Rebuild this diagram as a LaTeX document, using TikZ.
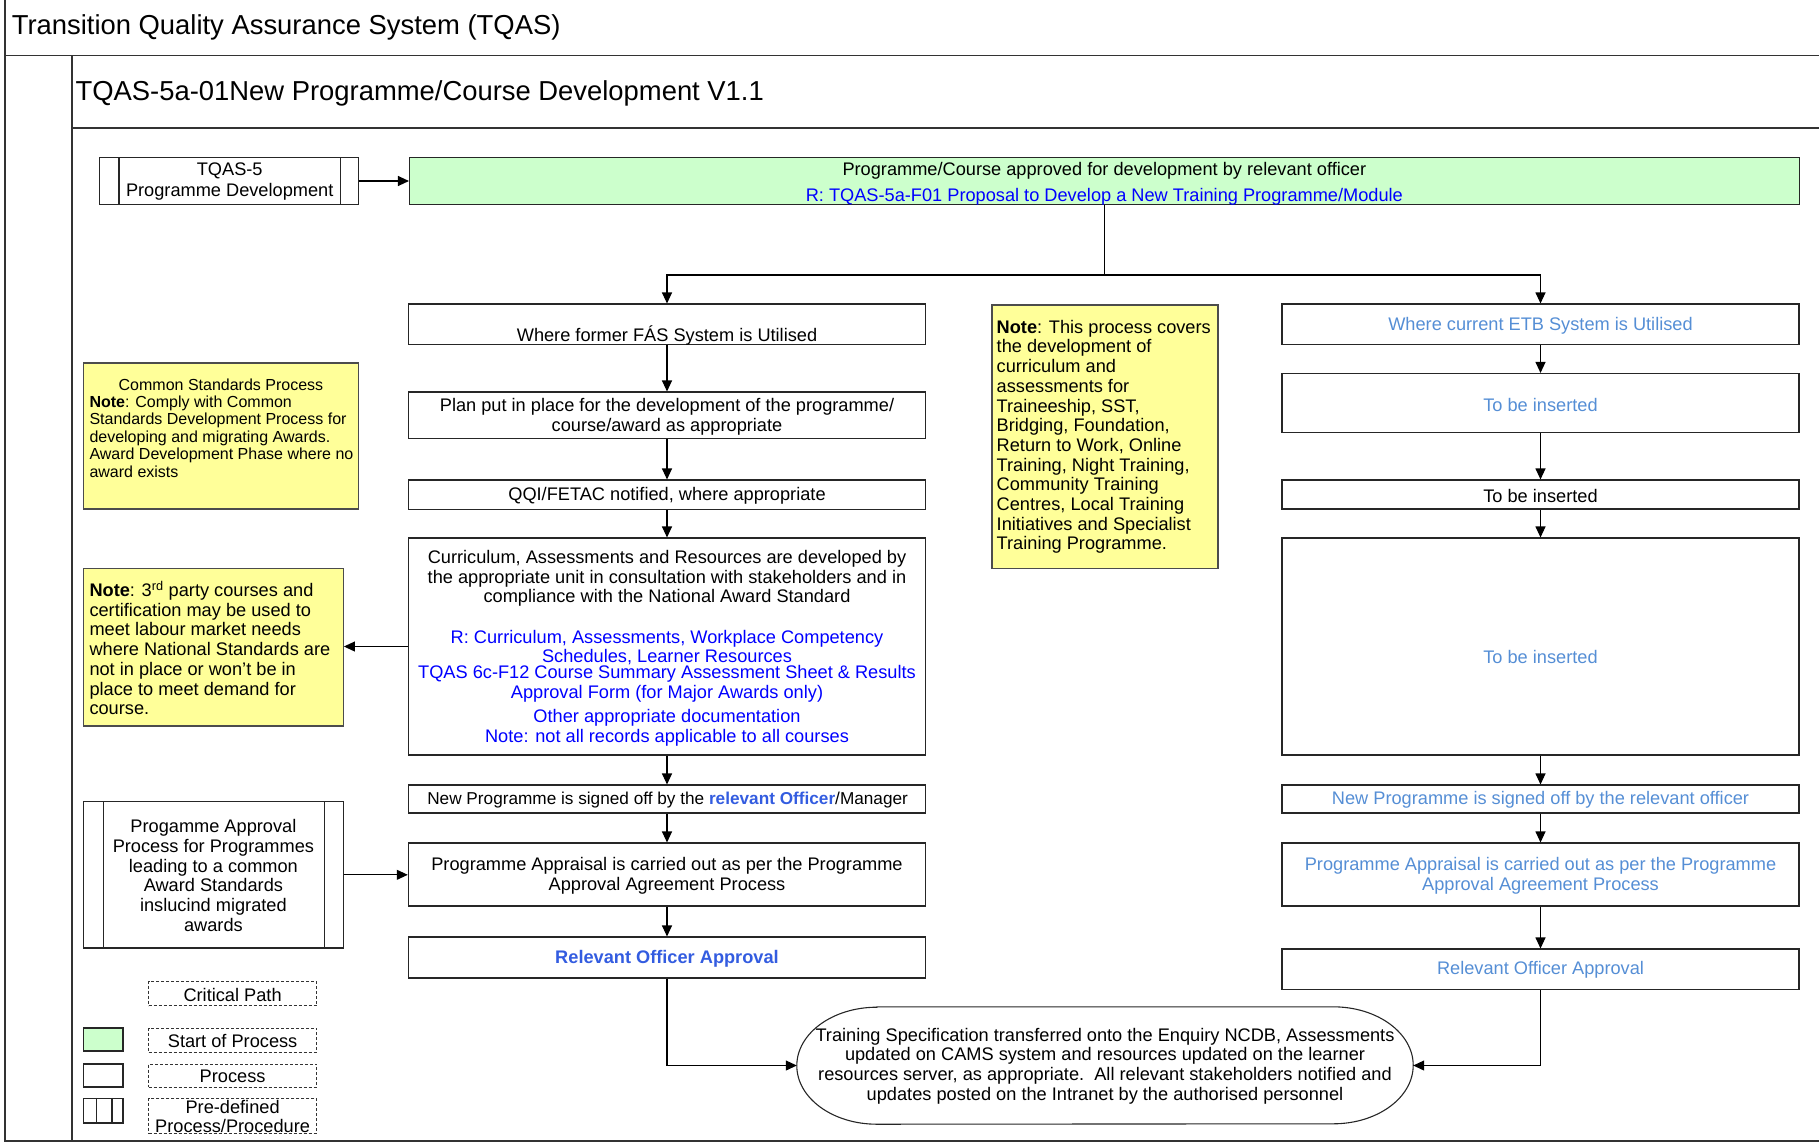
\documentclass[tikz,border=0pt]{standalone}
\usepackage{fontspec}
\setmainfont{Liberation Sans}
\usetikzlibrary{arrows.meta}
\definecolor{startgreen}{RGB}{204,255,204}
\definecolor{noteyellow}{RGB}{255,255,153}
\definecolor{recblue}{RGB}{0,0,255}
\definecolor{lightblue}{RGB}{85,142,213}
\definecolor{boldblue}{RGB}{51,92,224}
\newcommand\myfs{\fontsize{18.2}{19.7}\selectfont}
\newcommand\mysmallfs{\fontsize{16}{17.4}\selectfont}
\newcommand\mytitlefs{\fontsize{27.4}{30}\selectfont}
\begin{document}
\begin{tikzpicture}[x=1pt,y=-1pt,
  frame/.style={draw=black!80, line width=1.5pt},
  box/.style={draw=black!85, line width=1.1pt, inner sep=0pt},
  notebox/.style={draw=black!70, line width=1.1pt, fill=noteyellow, inner sep=0pt},
  legbox/.style={draw=black!80, line width=1pt, dash pattern=on 3pt off 2pt, inner sep=0pt},
  arr/.style={draw=black, line width=1.1pt, -{Triangle[length=11pt,width=10pt]}},
  link/.style={draw=black, line width=1.1pt},
  t/.style={font=\myfs, align=center, inner sep=0pt, yshift=-1.5pt},
  lt/.style={font=\myfs, align=left, inner sep=0pt, anchor=west, yshift=-1.5pt},
]
\useasboundingbox (0,0) rectangle (1819,1144);

% frame
\draw[frame] (5,0) -- (5,1141) -- (1819,1141);
\draw[frame] (5,55.7) -- (1819,55.7);
\draw[frame] (72,55.7) -- (72,1141);
\draw[frame] (72,128) -- (1819,128);
\node[font=\mytitlefs, anchor=west, inner sep=0pt] (title1) at (11.6,27.5) {Transition Quality Assurance System (TQAS)};
\node[font=\mytitlefs, anchor=west, inner sep=0pt] (title2) at (75.4,93.5) {TQAS-5a-01New Programme/Course Development V1.1};

% top row
\node[box, minimum width=258.6pt, minimum height=46.4pt] (T5) at (229.1,181) {};
\draw[box] ([xshift=19.7pt]T5.north west) -- ([xshift=19.7pt]T5.south west);
\draw[box] ([xshift=-18.4pt]T5.north east) -- ([xshift=-18.4pt]T5.south east);
\node[t, font=\fontsize{18.2}{21}\selectfont] at (229.7,180) {TQAS-5\\Programme Development};

\node[box, fill=startgreen, minimum width=1389.7pt, minimum height=46.4pt] (G) at (1104.35,181) {};
\node[t, font=\fontsize{18.2}{25.5}\selectfont] at (1104.35,182.5) {Programme/Course approved for development by relevant officer\\\textcolor{recblue}{R: TQAS-5a-F01 Proposal to Develop a New Training Programme/Module}};

% left column
\node[box, minimum width=517.4pt, minimum height=40.5pt] (L1) at (667,324.25) {};
\node[t] at (667,334) {Where former FÁS System is Utilised};
\node[box, minimum width=517.4pt, minimum height=46.5pt] (L2) at (667,415.25) {};
\node[t] at (667,415.5) {Plan put in place for the development of the programme/\\course/award as appropriate};
\node[box, minimum width=517.4pt, minimum height=29.2pt] (L3) at (667,494.6) {};
\node[t] at (667,494) {QQI/FETAC notified, where appropriate};
\node[box, minimum width=517.4pt, minimum height=217pt] (L4) at (667,646.5) {};
\node[t] at (667,577) {Curriculum, Assessments and Resources are developed by\\the appropriate unit in consultation with stakeholders and in\\compliance with the National Award Standard};
\node[t, text=recblue] at (667,646) {R: Curriculum, Assessments, Workplace Competency\\Schedules, Learner Resources};
\node[t, text=recblue] at (667,682) {TQAS 6c-F12 Course Summary Assessment Sheet \& Results\\Approval Form (for Major Awards only)};
\node[t, text=recblue] at (667,726) {Other appropriate documentation\\Note: not all records applicable to all courses};
\node[box, minimum width=517.4pt, minimum height=28pt] (L5) at (667,799) {};
\node[t, font=\fontsize{17.2}{19.7}\selectfont] at (667.6,799) {New Programme is signed off by the \textcolor{boldblue}{\textbf{relevant Officer}}/Manager};
\node[box, minimum width=517.4pt, minimum height=63pt] (L6) at (667,874.5) {};
\node[t] at (667,874.5) {Programme Appraisal is carried out as per the Programme\\Approval Agreement Process};
\node[box, minimum width=517.4pt, minimum height=41pt] (L7) at (667,957.5) {};
\node[t, text=boldblue, font=\myfs\bfseries] at (667,957.5) {Relevant Officer Approval};

% right column
\node[box, minimum width=517pt, minimum height=40.5pt] (R1) at (1540.5,324.25) {};
\node[t, text=lightblue] at (1540.5,324) {Where current ETB System is Utilised};
\node[box, minimum width=517pt, minimum height=59.2pt] (R2) at (1540.5,403.1) {};
\node[t, text=lightblue] at (1540.5,403) {To be inserted};
\node[box, minimum width=517pt, minimum height=29pt] (R3) at (1540.5,494.5) {};
\node[t] at (1540.5,494) {To be inserted};
\node[box, minimum width=517pt, minimum height=217pt] (R4) at (1540.5,646.5) {};
\node[t, text=lightblue] at (1540.5,655) {To be inserted};
\node[box, minimum width=517pt, minimum height=28pt] (R5) at (1540.5,799) {};
\node[t, text=lightblue] at (1540.5,798.5) {New Programme is signed off by the relevant officer};
\node[box, minimum width=517pt, minimum height=63pt] (R6) at (1540.5,874.5) {};
\node[t, text=lightblue] at (1540.5,874.5) {Programme Appraisal is carried out as per the Programme\\Approval Agreement Process};
\node[box, minimum width=517pt, minimum height=40.5pt] (R7) at (1540.5,969.25) {};
\node[t, text=lightblue] at (1540.5,968) {Relevant Officer Approval};

% terminal
\node[inner sep=0pt, minimum width=616pt, minimum height=117pt] (term) at (1105,1065.5) {};
\draw[box] ([xshift=80pt]term.north west) -- ([xshift=-80pt]term.north east)
  arc[start angle=90, end angle=-90, x radius=80pt, y radius=58.5pt]
  -- ([xshift=80pt]term.south west)
  arc[start angle=270, end angle=90, x radius=80pt, y radius=58.5pt] -- cycle;
\node[t] at (1105,1064.5) {Training Specification transferred onto the Enquiry NCDB, Assessments\\updated on CAMS system and resources updated on the learner\\resources server, as appropriate.\ \ All relevant stakeholders notified and\\updates posted on the Intranet by the authorised personnel};

% notes
\node[notebox, minimum width=226pt, minimum height=263.5pt] (NM) at (1105,436.75) {};
\node[lt] at (996.5,435.4) {\textbf{Note}: This process covers\\the development of\\curriculum and\\assessments for\\Traineeship, SST,\\Bridging, Foundation,\\Return to Work, Online\\Training, Night Training,\\Community Training\\Centres, Local Training\\Initiatives and Specialist\\Training Programme.};

\node[notebox, minimum width=274.9pt, minimum height=146pt] (NC) at (220.95,436) {};
\node[t, font=\mysmallfs] at (220.95,383) {Common Standards Process};
\node[lt, font=\mysmallfs] at (89.3,435) {\textbf{Note}: Comply with Common\\Standards Development Process for\\developing and migrating Awards.\\Award Development Phase where no\\award exists};

\node[notebox, minimum width=259.9pt, minimum height=157.6pt] (N3) at (213.45,647.2) {};
\node[lt] at (89.3,646.5) {\textbf{Note}: 3\textsuperscript{rd} party courses and\\certification may be used to\\meet labour market needs\\where National Standards are\\not in place or won’t be in\\place to meet demand for\\course.};

% predefined approval
\node[box, minimum width=259.9pt, minimum height=146.4pt] (PA) at (213.45,874.8) {};
\draw[box] ([xshift=20.9pt]PA.north west) -- ([xshift=20.9pt]PA.south west);
\draw[box] ([xshift=-19.8pt]PA.north east) -- ([xshift=-19.8pt]PA.south east);
\node[t] at (213.4,874) {Progamme Approval\\Process for Programmes\\leading to a common\\Award Standards\\inslucind migrated\\awards};

% legend
\node[legbox, minimum width=168.2pt, minimum height=24.3pt] (LCP) at (232.6,993.5) {};
\node[t] at (232.6,993) {Critical Path};
\node[box, fill=startgreen, minimum width=39.5pt, minimum height=23pt] (SQG) at (103.25,1039.5) {};
\node[legbox, minimum width=168.2pt, minimum height=24pt] (LSP) at (232.6,1040) {};
\node[t] at (232.6,1039.5) {Start of Process};
\node[box, minimum width=39.5pt, minimum height=23pt] (SQP) at (103.25,1075.5) {};
\node[legbox, minimum width=168.2pt, minimum height=23pt] (LPR) at (232.6,1075.5) {};
\node[t] at (232.6,1075) {Process};
\node[box, minimum width=39.5pt, minimum height=24.5pt] (SQD) at (103.25,1110.75) {};
\draw[box] ([xshift=13.9pt]SQD.north west) -- ([xshift=13.9pt]SQD.south west);
\draw[box] ([xshift=-11.6pt]SQD.north east) -- ([xshift=-11.6pt]SQD.south east);
\node[legbox, minimum width=168.2pt, minimum height=34.5pt] (LPD) at (232.6,1115.75) {};
\node[t] at (232.6,1115) {Pre-defined\\Process/Procedure};

% connectors
\draw[arr] (T5.east) -- (G.west);
\coordinate (br) at (1104.35,275);
\draw[link] (G.south) -- (br);
\draw[arr] (br) -| (L1.north);
\draw[arr] (br) -| (R1.north);
\draw[arr] (L1.south) -- (L2.north);
\draw[arr] (L2.south) -- (L3.north);
\draw[arr] (L3.south) -- (L4.north);
\draw[arr] (L4.south) -- (L5.north);
\draw[arr] (L5.south) -- (L6.north);
\draw[arr] (L6.south) -- (L7.north);
\draw[arr] (R1.south) -- (R2.north);
\draw[arr] (R2.south) -- (R3.north);
\draw[arr] (R3.south) -- (R4.north);
\draw[arr] (R4.south) -- (R5.north);
\draw[arr] (R5.south) -- (R6.north);
\draw[arr] (R6.south) -- (R7.north);
\draw[arr] (L4.west) -- (L4.west -| N3.east);
\draw[arr] (PA.east) -- (PA.east -| L6.west);
\draw[arr] (L7.south) |- (term.west);
\draw[arr] (R7.south) |- (term.east);
\end{tikzpicture}
\end{document}
